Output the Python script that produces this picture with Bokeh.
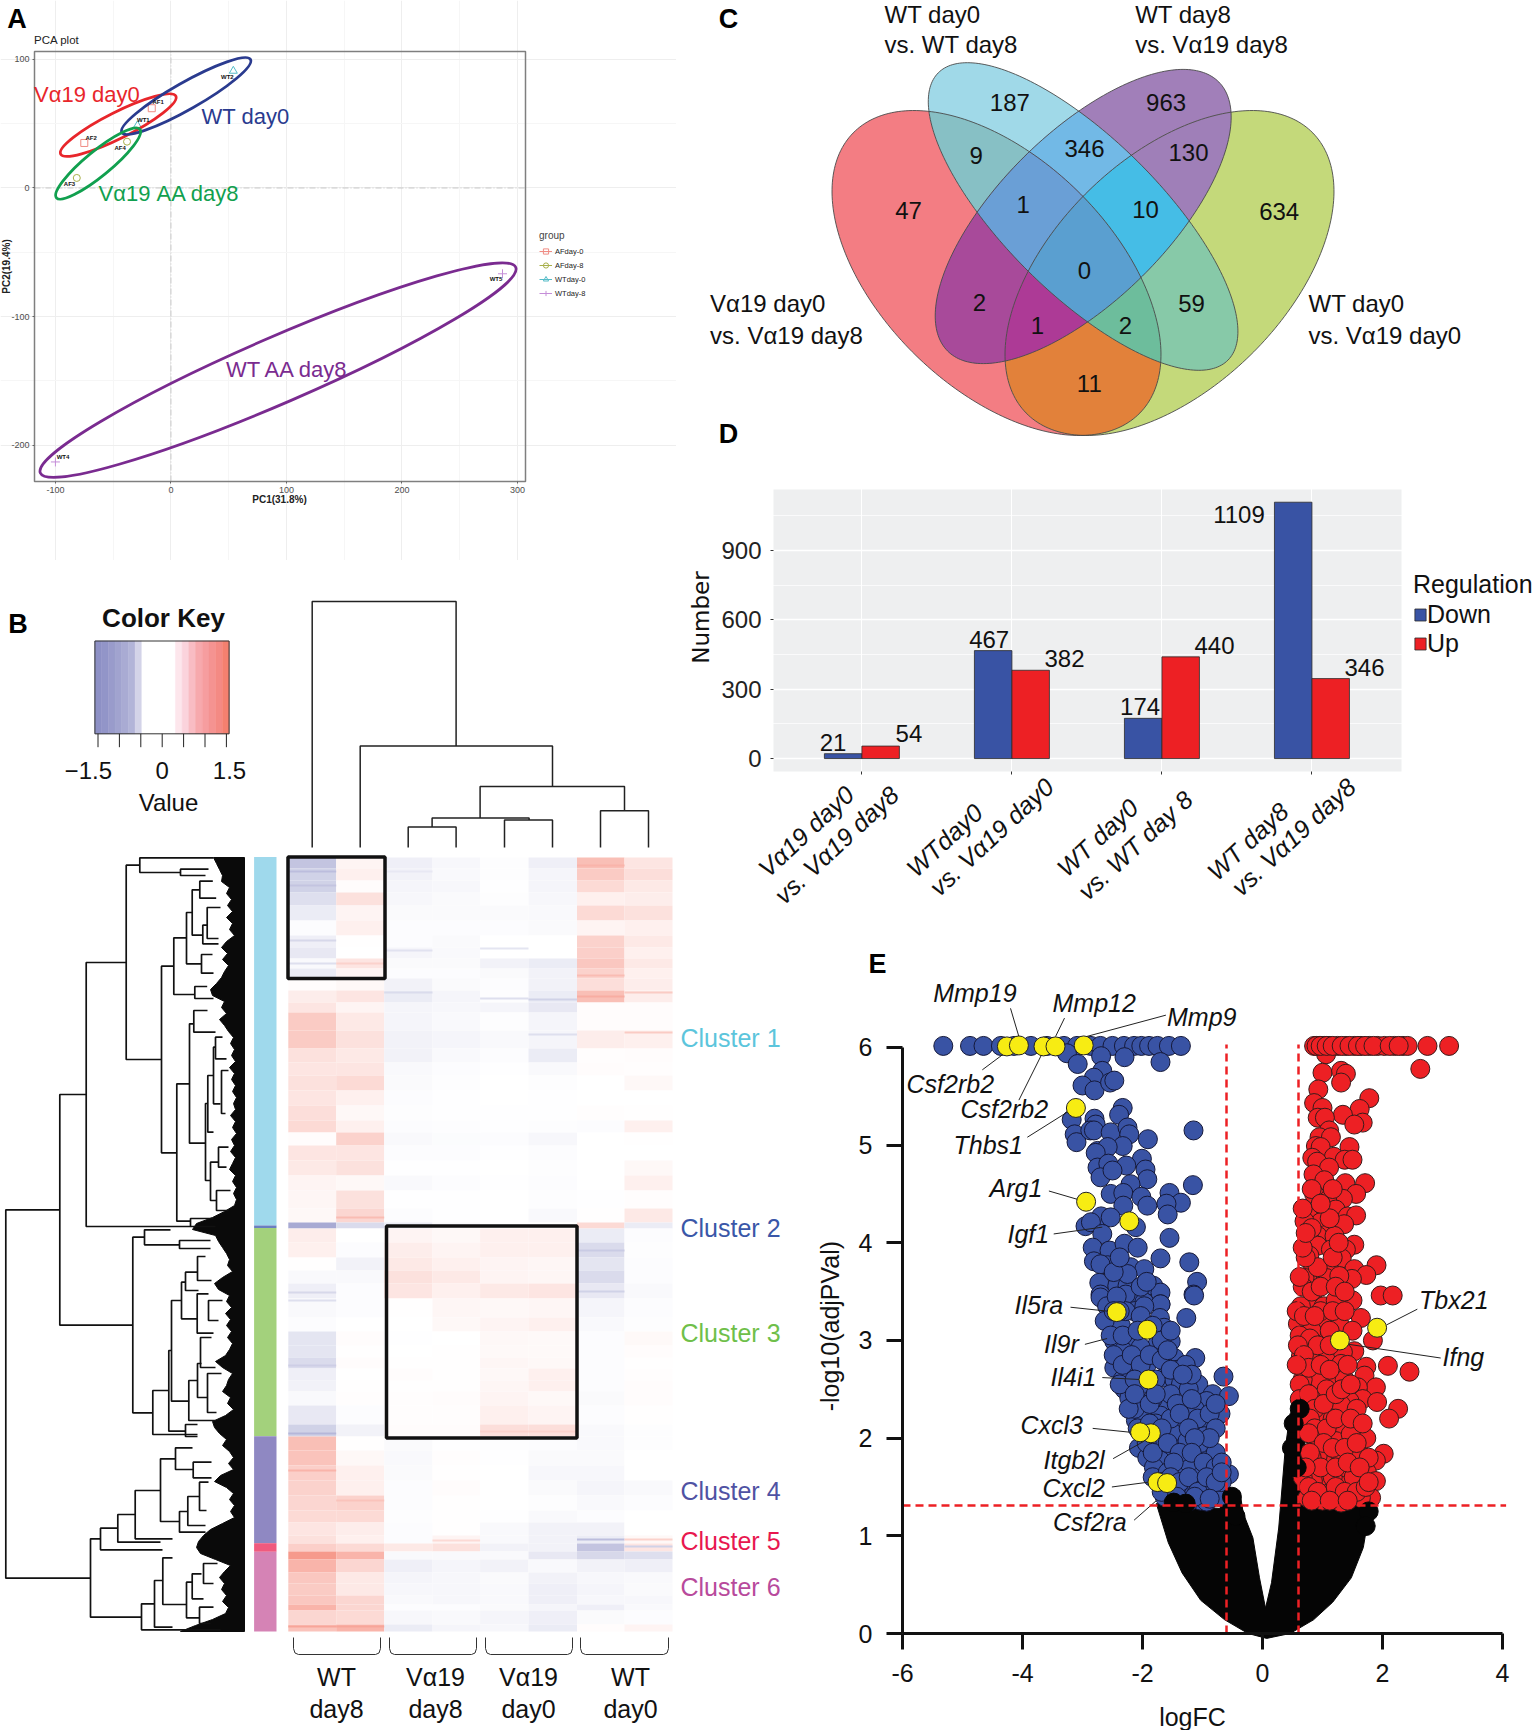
import numpy as np
from bokeh.plotting import figure
from bokeh.layouts import row, column
from bokeh.models import (Label, Legend, LegendItem, FixedTicker, LinearAxis, Grid, LinearColorMapper, Range1d)
from bokeh.transform import transform
from bokeh.embed import file_html
from bokeh.resources import INLINE

FONT = "Liberation Sans"

# ---------- Panel A data ----------
pca_x_ticks = [-100, 0, 100, 200, 300]
pca_y_ticks = [-200, -100, 0, 100]
af0_x, af0_y = [-16.6, -75.0], [62.0, 35.0]
af8_x, af8_y = [-81.5, -38.0], [7.8, 36.0]
wt0_x, wt0_y = [-29.0, 54.0], [48.6, 91.0]
wt8_x, wt8_y = [-100.0, 287.0], [-213.0, -66.7]
sample_names = ["AF1", "AF2", "AF3", "AF4", "WT1", "WT2", "WT4", "WT5"]
sample_px = [157.6, 90.6, 69, 119.6, 142.8, 226.8, 62.5, 495.5]
sample_py = [101.8, 137, 183.6, 147, 119.6, 76.4, 456.4, 278.6]
ell_names = ["Vα19 day0", "WT day0", "Vα19 AA day8", "WT AA day8"]
ell_colors = ["#e8262b", "#2a3b8f", "#11a04f", "#7a2b90"]
ell_x = [-45.6, 13.2, -63.0, 92.7]
ell_y = [48.9, 71.5, 19.0, -141.6]
ell_w = [129, 148, 108, 518]
ell_h = [26, 27, 25, 66]
ell_a = [26.7, 29.6, 39.4, 23.4]
ell_lx = [33.5, 201, 98, 225.4]
ell_ly = [93.6, 116, 193, 369]

# ---------- Panel B data ----------
heat_rows = [857,868,880,892,905,920,935,947,958,968,978,990,1002,1012,1030,1048,1062,1075,1090,1105,1120,1132,1145,1160,1175,1190,1208,1222,1228,1242,1257,1270,1283,1298,1317,1331,1345,1357,1368,1380,1391,1405,1424,1436,1450,1465,1480,1495,1510,1522,1535,1543,1551,1559,1572,1583,1595,1604,1610,1624,1631]
heat_cols = [287.8, 335.7, 383.7, 432, 479.6, 528, 576.5, 624, 672]
wt8_a = [-.9,-.7,-.7,-.5,-.3,-.05,-.25,-.35,-.1,-.3,.05,.25,.35,.7,.7,.4,.35,.4,.35,.45,.5,.05,.35,.3,.15,.12,.1,-1.3,.25,.2,.02,-.1,-.25,-.1,-.05,-.4,-.4,-.55,-.25,-.2,-.1,-.35,-.7,.85,.8,.65,.6,.55,.5,.35,.4,.65,1.35,1.0,.75,.7,.75,1.0,.55,.8]
wt8_b = [.15,.2,.05,.4,.15,.2,.02,0,.35,.15,.1,.35,.15,.3,.4,.3,.35,.5,.2,.1,.2,.6,.35,.4,.1,.4,.55,-.55,0,-.05,-.2,-.1,-.05,-.05,0,.05,.02,.05,0,.02,.03,-.05,-.2,.02,.1,.2,.2,.6,.5,.25,.2,.5,1.0,.55,.3,.3,.55,.55,.5,1.0]
v8_a = [-.25,-.2,-.15,-.12,-.08,-.05,-.05,-.15,-.08,-.05,-.2,-.3,-.15,-.15,-.2,-.2,-.1,-.08,-.05,-.03,-.05,-.1,-.05,-.02,-.1,-.02,-.05,-.3,.15,.25,.3,.4,.35,.02,0,-.02,0,.02,.05,.02,.03,.03,.05,-.08,-.1,-.08,-.05,-.05,-.03,-.05,-.05,.3,-.1,-.25,-.15,-.12,-.1,-.05,-.12,-.3]
v8_b = [-.12,-.1,-.12,-.08,-.08,-.05,-.08,-.1,-.08,-.05,-.08,-.15,-.12,-.1,-.15,-.1,-.05,-.03,-.02,-.02,-.03,-.06,-.05,-.02,-.05,-.02,-.02,-.1,.1,.15,.2,.3,.2,.12,.1,0,.02,.02,.02,.02,.05,.03,.05,-.02,.03,.02,.04,.02,.02,.02,.15,.4,-.1,-.15,-.12,-.12,-.12,-.05,-.1,-.15]
v0_a = [-.03,-.03,-.02,-.03,-.08,-.05,0,0,-.2,-.08,-.05,-.03,-.15,-.03,-.1,-.05,-.02,-.01,-.01,-.02,-.02,-.05,-.02,0,-.02,0,0,0,.2,.2,.15,.15,.3,.1,.15,.1,.08,.12,.1,.12,.15,.2,.45,-.03,-.02,0,0,0,-.02,-.1,-.1,-.2,-.1,-.2,-.08,-.1,-.1,-.08,-.15,-.12]
v0_b = [-.25,-.15,-.15,-.12,-.1,-.08,0,0,-.3,-.2,-.2,-.3,-.35,-.15,-.15,-.3,-.1,-.03,-.02,-.02,-.03,-.12,-.05,-.03,-.05,-.03,-.1,0,.2,.2,.12,.12,.35,.12,.2,.08,.08,.1,.2,.2,.1,.15,.45,-.05,-.08,-.12,-.08,-.03,-.1,-.2,-.2,-.2,-.35,-.1,-.2,-.25,-.25,-.15,-.25,-.3]
wt0_a = [.85,.7,.5,.2,.5,.15,.6,.65,.75,.6,.45,.85,.05,.05,.25,.03,.05,0,0,.03,-.05,0,0,0,0,-.02,.02,.5,-.3,-.55,-.4,-.55,-.35,-.15,-.1,-.05,-.05,-.05,-.05,-.05,-.08,-.05,-.1,-.1,-.08,-.12,-.15,-.1,-.05,-.2,-.3,-.9,-.6,-.2,-.12,-.15,-.12,-.25,-.08,.05]
wt0_b = [.35,.45,.3,.25,.4,.2,.3,.2,.3,.2,.25,.25,.05,.05,.2,.05,.03,.1,0,.02,.2,.02,0,.1,.2,.03,.3,-.3,-.05,-.03,-.05,-.05,-.1,-.05,-.03,.08,.05,.02,.03,.05,.05,.02,-.03,-.03,0,0,-.1,-.05,0,0,.1,.35,-.5,-.25,-.1,-.08,-.12,-.1,-.05,.15]
heat_columns = [wt8_a, wt8_b, v8_a, v8_b, v0_a, v0_b, wt0_a, wt0_b]
# thin single-gene stripes that stand out in the heat map
stripe_col = [0,0,0,0,0,0,0,0,1,1,2,2,2,4,4,5,5,6,6,6,6,6,6,7,7,7,7,4,5,3,0,1,0,1]
stripe_row = [871,885,940,963,1433,1365,1292,1300,963,1217,950,992,871,948,998,999,1034,975,996,865,1250,1291,1539,992,1032,1539,1546,1431,1431,1540,1626,1626,1470,1500]
stripe_val = [-1.0,-.9,-.6,-.5,-1.1,-.75,-.6,-.5,.6,.9,-.45,-.55,-.35,-.4,-.5,-.7,-.5,.9,1.1,1.0,-.8,-.7,-1.0,.7,.7,.6,-.7,.6,.6,.5,1.2,1.2,1.0,.8]

key_colors = ["#8d90c5","#9295c8","#999bcb","#a1a3cf","#a9abd3","#b2b4d8","#d3d3e8","#ffffff","#ffffff","#ffffff","#ffffff","#ffffff","#fde6ec","#fbd3dc","#f9bcc3","#f7a9ad","#f69d9f","#f59391","#f48a84","#f4806f"]
key_tick_values = [-1.5, -1, -.5, 0, .5, 1, 1.5]

side_tops = [856.6, 1225, 1227.5, 1435.7, 1542.7, 1551.3]
side_bots = [1225, 1227.5, 1435.7, 1542.7, 1551.3, 1631]
side_colors = ["#9fd9ec", "#6a7fc0", "#a3d17c", "#8f88c2", "#f05a7e", "#d583b5"]
cluster_names = ["Cluster 1", "Cluster 2", "Cluster 3", "Cluster 4", "Cluster 5", "Cluster 6"]
cluster_py = [1037.9, 1227.8, 1332.6, 1490.7, 1540.7, 1586]
cluster_colors = ["#5cc5dc", "#3a57a8", "#6fbf4a", "#4f52a3", "#e8174f", "#b84a9c"]

row_tree = [
 (5.3,1209.3,1577.7,59.3,90),(59.3,1094,1324.7,85.7,132.3),(85.7,962,1226,125.7,190),
 (125.7,864.7,1059,139.3,161),(139.3,857.3,872,213,180),(180,868.7,875,208,205),
 (161,965.7,1152.3,173.3,176.3),(173.3,937.3,994,186,194.3),(186,912,963.3,191.7,201),
 (191.7,889.3,934.7,199.3,202.3),(199.3,880.7,897.7,212.3,215.7),(202.3,924.7,943.3,206.7,218),
 (206.7,907,938,220,218),(201,954,972.7,212,213),(194.3,986,998,206.7,213),
 (176.3,1083.3,1220.7,189,190),(189,1023.3,1142.7,193.3,205),(193.3,1010,1031.7,207,215),
 (205,1103,1180,207.3,210),(207.3,1075,1131.7,213,213),(213,1046.7,1103.3,214.7,220),
 (215,1036.7,1058.3,222,226),(221,1070,1113,228,225),(210,1161.7,1200,218,215.7),
 (218,1146.7,1166.7,228,226),(216,1190,1210,230,228),(190,1218,1226,213,215),
 (132.3,1236.7,1412.3,144,152.3),(144,1229.3,1244.3,170,179),(179,1240,1248,210,210),
 (152.3,1390,1434,168.3,197),(168.3,1350,1430.7,171,185),(171,1300,1400.7,181,188.7),
 (181,1281.7,1318.3,185,197),(185,1271.7,1290,197,198),(197,1256,1280,205,211),
 (196.7,1293.3,1332.7,208,213),(208,1300,1320,222,218),(188.3,1380,1420,197,215),
 (197,1363,1397,201,207),(200,1337,1367,211,215),(207,1373,1412,221,216),(185,1424,1436,197,197),
 (90,1538.3,1616.7,100,141),(100,1527.7,1549.3,117.3,162),(117.3,1514,1541.7,134.7,160),
 (134.7,1490,1538.3,160,172),(160,1458.3,1521,175,179),(175,1447.3,1469,192,192.7),
 (192.7,1461.7,1477.3,211,211),(179,1511,1531.7,187.3,205),(187.3,1496,1525,199,205),
 (199,1481.7,1510,208,206),(141,1603.3,1629.3,154,220),(154,1580,1626.7,162.3,172),
 (162.3,1557.3,1604,172,186),(186,1581.7,1617.3,191.7,199),(191.7,1573.3,1598.3,201,203),
 (203,1563,1583,217,213),(199,1606.7,1623,213,210),
]
leaf_edge_x = [213,216,219,222,221,229,226,231,227,232,226,232,229,234,226,221,227,222,228,224,221,216,210,212,224,221,226,219,224,228,233,230,234,231,235,229,234,231,235,232,236,233,235,230,235,232,236,231,234,230,235,232,229,235,232,236,233,236,234,224,212,196,192,215,218,222,226,229,227,232,222,214,218,229,226,231,225,230,226,231,227,232,229,225,215,222,232,228,226,222,230,227,233,225,212,214,219,226,222,229,233,228,233,220,214,226,233,229,234,230,234,222,210,203,198,196,200,215,230,224,219,224,221,226,222,228,225,212,195,180]
leaf_edge_y = [857 + 6 * i for i in range(len(leaf_edge_x))]
col_tree = [
 (601,311.7,455.6,847,745.5),(745.5,359.7,552,847,786),(786,479.6,624,817.5,810.3),
 (817.5,431.6,528.6,826.4,819.5),(826.4,407.7,455.6,847,847),(819.5,504,552,847,847),(810.3,600,648,847,847),
]
bracket_l = [293, 389, 485, 580]
bracket_r = [380, 476, 572, 668]
group_l1 = ["WT", "Vα19", "Vα19", "WT"]
group_l2 = ["day8", "day8", "day0", "day0"]
group_px = [336, 435, 528, 630]

# ---------- Panel C data ----------
venn_cx = [996, 1082.6, 1082.7, 1169]
venn_cy = [272.5, 216, 216, 272.5]
venn_a = [200.4, 204, 191, 200.4]
venn_b = [115.3, 77.5, 84, 115.3]
venn_t = [44.3, 44.75, -44.75, -44.3]
venn_fill = {"R":"#f37d83","C":"#a0d9e8","P":"#a17fb9","G":"#c4d97a",
             "RC":"#87c0c5","CP":"#72b9e6","RP":"#a84a9a","RG":"#e2813a","CG":"#87c9a8","PG":"#9f7fb8",
             "RCP":"#6a9fd6","CPG":"#45bde6","RPG":"#ad3a96","RCG":"#6dbd9c","RCPG":"#5a9fd0"}
venn_counts = ["187","963","9","346","130","47","1","10","634","0","2","59","1","2","11"]
venn_px = [1009.3,1165.6,975.7,1084,1188,908,1022.7,1145,1278.7,1084,979,1191,1037,1125,1088.8]
venn_py = [101.7,101.7,155,148.3,151.7,210,204,209.3,210.7,270,301.7,303.3,325,325,383.3]
venn_titles = [("WT day0",884,14),("vs. WT day8",884,44),("WT day8",1134.7,14),("vs. Vα19 day8",1134.7,44),
               ("Vα19 day0",709.6,303.3),("vs. Vα19 day8",709.6,335),("WT day0",1308,303.3),("vs. Vα19 day0",1308,335)]

# ---------- Panel D data ----------
cat_pos = [1, 2, 3, 4]
down_counts = [21, 467, 174, 1109]
up_counts = [54, 382, 440, 346]
bar_text = ["21","54","467","382","174","440","1109","346"]
bar_px = [832.5,908.4,988.7,1064,1139.6,1214,1238.5,1364]
bar_py = [741.7,733,639,658,706,645,514,666.7]
cat_lines = [("Vα19 day0",849.4,790),("vs. Vα19 day8",894,790),("WTday0",978,808),("vs. Vα19 day0",1049,782),
             ("WT day0",1133.5,803),("vs. WT day 8",1188,795),("WT day8",1283.8,806.7),("vs. Vα19 day8",1351,782)]

# ---------- Panel E data ----------
env_x = [-1.77,-1.57,-1.34,-1.03,-.63,-.24,.07,.46,.85,1.17,1.48,1.68,1.79,1.71,.70,.71,.62,.46,.38,.27,.15,.05,-.05,-.16,-.32,-.38,-.60,-.71,-1.42]
env_y = [1.33,.93,.62,.34,.14,0,-.05,0,.14,.32,.57,.88,1.28,1.36,1.36,2.15,2.38,2.25,1.9,1.08,.52,.26,.57,.98,1.23,1.46,1.46,1.28,1.31]
black_x = [-1.48,-1.28,-.51,-.45,.62,.52,.49,.57,1.77,1.72]
black_y = [1.34,1.33,1.4,1.2,2.3,2.15,1.9,1.7,1.25,1.1]
blue_x_read = [-5.39,-4.945,-4.72,-4.43,-4.21,-3.93,-3.66,-3.38,-3.16,-2.93,-2.77,-2.57,-2.38,-2.21,-2.09,-1.96,-1.82,-1.63,-1.43,
 -3.33,-3.15,-2.76,-2.37,-1.77,-2.74,-2.88,-3.07,-2.87,-2.61,-2.54,-2.40,-2.46,-3.25,-2.87,-2.85,-3.20,-3.17,-2.94,-2.88,-2.60,-2.32,-2.29,-1.98,-1.22,-2.82,-2.40,-2.65,-2.85,-2.08,-2.82,-2.64,-2.34,-2.02,-2.77,-2.57,-1.99,-2.27,-2.60,-2.39,-2.09,-1.99,-1.23,-1.62,-1.43,-1.67,-1.65,-2.39,-2.76,-3.02,-2.93,-2.60,-2.18,-2.74,-2.90,-2.62,-2.37,-2.15,-1.62,-1.77,-1.29,-2.65,-2.88,-2.77,-2.27,-2.04,-1.16,-1.22,-2.79,-2.49,-2.32,-2.32,-1.89,-1.77,-2.77,-2.63,-2.21,-2.04,-1.77,
 -2.77,-2.66,-2.35,-1.77,-2.21,-2.04,-1.21,-1.34,-1.78,-2.57,-2.43,-1.71,-1.60,-1.82,-2.24,-2.54,-2.39,-2.10,-1.88,-1.19,-1.54,-1.49,-1.71,-1.54,-2.54,-2.24,-2.40,-2.10,-2.37,-2.29,-1.43,-1.14,-.72,-.90,-.63,-1.00,-1.57,-1.35,-1.77,-2.10,-2.18,-2.04,-1.77,-1.68,-1.49,-1.05,-.77,-1.24,-1.40,-1.04,-1.54,-2.04,-1.77,-1.57,-1.32,-1.15,-.99,-2.13,-1.99,-1.77,-1.43,-1.88,-1.14,-.88,-.63,-1.21,-.90,-1.38,-1.60,-1.10,
 -1.9,-1.5,-1.3,-1.0,-.8,-1.2,-1.9,-1.6,-2.0,-1.85,-1.3,-1.1,-.85,-1.65,-1.7,-1.3,-1.0,-.75,-2.2,
 -2.7,-2.6,-2.35,-2.1,-1.9,-2.4,-2.15,-1.75,-1.6,-2.55,-2.4,-2.25,-2.1,-1.95,-1.75,-1.65,-1.35,-1.25,-2.45,-2.2,-1.85,-1.6,-1.4,
 -2.3,-2.2,-1.95,-1.85,-1.6,-1.5,-1.25,-1.15,-.95,-.85,-2.15,-1.95,-1.75,-1.45,-1.3,-.85,-.95,-1.2,
 -2.0,-1.9,-1.65,-1.45,-1.25,-1.05,-.85,-.75,-1.55,-1.75,-1.6,-1.45,-1.3,-1.15,-1.0,-.85,-.75,-1.75,-1.5,-1.2,-.95,
 -2.55,-2.45,-2.5,-2.1,-2.45,-2.0,-2.55]
blue_y = [6.015]*19 + [5.94,5.83,5.91,5.90,5.85,5.76,5.69,5.61,5.56,5.64,5.66,5.38,5.31,5.26,5.27,5.21,5.11,5.03,5.15,5.15,5.13,5.18,5.11,5.06,5.15,4.94,4.99,4.98,4.92,4.86,4.77,4.81,4.79,4.75,4.67,4.74,4.65,4.60,4.50,4.51,4.47,4.38,4.59,4.51,4.41,4.40,4.29,4.38,4.27,4.17,4.21,4.26,4.16,4.09,3.95,3.92,3.99,3.95,4.05,3.84,3.80,3.77,3.81,3.78,3.75,3.73,3.60,3.47,3.59,3.56,3.56,3.68,3.56,3.49,3.47,3.39,3.44,3.39,3.37,
 3.44,3.35,3.47,3.37,3.30,3.35,3.46,3.23,3.23,3.17,3.15,3.13,2.99,2.96,3.03,2.99,2.89,2.93,2.84,2.82,2.82,2.70,2.62,2.60,2.72,2.72,2.60,2.55,2.50,2.41,2.55,2.55,2.63,2.45,2.43,2.38,2.36,2.33,2.33,2.35,2.18,2.21,2.23,2.14,2.18,2.20,2.25,2.14,2.07,2.02,2.04,2.01,1.97,1.90,1.97,1.82,1.73,1.90,1.80,1.77,1.70,1.70,1.66,1.66,1.63,1.49,1.46,1.39,1.43,1.36,
 1.6,1.5,1.75,1.55,1.4,2.3,2.4,2.45,2.75,2.15,2.5,1.95,1.85,1.65,1.4,1.35,1.35,1.55,2.3,
 3.2,3.05,3.3,3.25,3.15,3.05,3.1,3.0,3.1,2.85,2.75,2.85,2.75,2.85,2.8,2.9,2.75,2.65,2.55,2.6,2.6,2.7,2.65,
 2.3,2.45,2.35,2.45,2.2,2.35,2.4,2.2,2.25,2.35,2.1,2.15,2.1,2.25,2.1,2.1,2.0,2.0,
 1.95,1.85,1.95,1.85,1.85,1.75,1.7,1.75,1.75,1.55,1.6,1.55,1.6,1.45,1.6,1.55,1.65,1.45,1.4,1.4,1.38,
 3.7,3.85,3.45,3.55,3.3,3.6,3.3]
red_x_read = [.79,.876,.96,1.04,1.18,1.32,1.46,1.57,1.71,1.85,1.96,2.13,2.27,2.35,2.68,3.04,
 .99,2.56,.93,1.24,1.32,1.24,.86,1.71,.79,.93,1.55,1.27,.85,.97,1.60,1.46,1.04,.88,1.07,.82,1.38,.90,.76,1.12,1.30,1.43,.84,1.04,.78,.96,1.31,1.64,1.49,.79,1.27,1.01,.88,1.15,.70,1.35,1.49,.90,.63,1.29,.99,.85,1.13,1.46,.71,.85,.71,1.07,1.32,1.25,1.83,1.46,1.66,1.04,.73,.99,1.42,1.21,.63,
 1.90,2.10,1.43,.79,.95,.57,1.15,1.57,.68,.95,1.21,.52,1.77,1.43,.63,.93,1.46,.77,.57,1.02,1.27,1.24,2.02,2.38,1.66,1.14,1.63,.65,.88,1.82,1.52,.65,1.08,1.60,1.38,1.84,1.24,.89,2.19,2.04,1.54,.90,.65,1.29,.85,1.66,1.15,1.40,1.95,1.82,1.53,1.04,.85,1.21,1.67,1.82,1.35,1.02,.77,.60,1.57,1.08,1.74,1.40,.68,.93,1.24,1.57,
 .75,.8,1.3,1.0,1.3,1.1,.75,.6,1.5,1.45,1.1,1.7,.9,.75,.6,1.1,.55,.55,
 .5,.62,.8,1.05,1.3,.72,.85,1.05,.52,.62,.7,.5,.9,1.05,1.35,.55,.7,.8,.95,1.15,1.25,1.4,.72,.8,1.0,1.15,1.4,.7,.95,1.1,1.3,1.5,1.6,.72,.9,1.15,1.35,1.55,.65,.7,.85,1.15,1.3,1.5,1.65,.75,1.05,1.35,1.7,.6,.75,.9,1.15,1.3,.55,.85,1.1,.65,1.2,.6,.75,1.05,.65,.6,.75,.9,1.1,
 .83,.9,1.0,1.1,1.25,1.38,1.52,1.64,1.78,2.05,2.2]
red_y = [6.015]*16 + [5.93,5.78,5.74,5.76,5.73,5.64,5.57,5.48,5.43,5.38,5.37,5.31,5.28,5.28,5.23,5.21,5.15,5.08,5.08,4.99,4.98,4.98,4.87,4.88,4.85,4.85,4.83,4.77,4.70,4.64,4.61,4.61,4.50,4.50,4.45,4.43,4.34,4.34,4.26,4.27,4.28,4.21,4.22,4.19,4.08,4.07,4.07,3.98,4.04,3.97,3.87,3.93,3.93,3.84,3.77,3.73,3.67,3.73,3.68,3.64,3.63,3.66,3.64,
 3.46,3.46,3.41,3.39,3.35,3.35,3.41,3.23,3.18,3.17,3.17,3.17,3.00,3.10,3.01,3.01,2.89,2.84,2.84,2.86,2.88,2.76,2.74,2.68,2.73,2.64,2.64,2.62,2.60,2.52,2.52,2.46,2.43,2.40,2.38,2.37,2.34,2.28,2.30,2.20,2.14,2.18,2.18,2.09,2.01,2.00,1.97,2.04,1.84,1.77,1.84,1.77,1.82,1.85,1.65,1.56,1.61,1.61,1.56,1.60,1.52,1.45,1.39,1.43,1.39,1.36,1.34,1.39,
 1.8,2.0,1.7,2.5,2.6,2.2,2.4,2.6,2.3,1.6,1.6,1.8,3.3,3.1,3.0,3.3,3.05,2.55,
 3.3,3.25,3.25,3.1,3.3,3.02,2.95,2.95,2.95,2.85,2.72,2.75,2.75,2.7,2.75,2.4,2.45,2.3,2.35,2.45,2.5,2.55,2.2,2.1,2.1,2.2,2.2,2.05,1.95,1.9,1.9,1.95,2.15,1.85,1.7,1.7,1.75,1.7,1.7,1.5,1.45,1.5,1.45,1.45,1.5,1.36,1.36,1.36,1.55,3.55,3.5,3.55,3.55,3.5,3.65,3.75,3.85,3.85,4.0,3.95,4.15,4.25,4.1,4.35,4.55,4.4,4.55,
 6.015,6.015,6.015,6.015,6.015,6.015,6.015,6.015,6.015,6.015,6.015]
hit_x_read = [-4.33,-4.13,-3.72,-3.52,-3.05,-3.18,-3.01,-2.29,-2.50,-1.99,-1.97,-1.93,-2.11,-1.82,-1.66,1.22,1.84]
hit_y = [6.01,6.02,6.01,6.01,6.02,5.38,4.42,4.22,3.29,3.11,2.60,2.05,2.06,1.55,1.54,3.00,3.13]
lead_x0_read = [-4.27,-3.37,-1.68,-4.74,-4.13,-3.99,-3.63,-3.55,-3.27,-3.03,-2.74,-2.90,-2.56,-2.58,-2.21,2.0,2.90]
lead_y0 = [6.40,6.30,6.33,5.77,5.46,5.08,4.53,4.09,3.34,2.96,2.62,2.10,1.79,1.50,1.16,3.16,2.82]
lead_x1_read = [-4.13,-3.52,-3.01,-4.37,-3.74,-3.29,-3.13,-2.74,-2.66,-2.66,-2.11,-2.27,-2.04,-1.96,-1.84,2.51,1.37]
lead_y1 = [6.11,6.11,6.11,5.94,5.94,5.35,4.44,4.16,3.30,3.02,2.60,2.06,1.97,1.55,1.36,3.32,2.96]
gene_names = ["Mmp19","Mmp12","Mmp9","Csf2rb2","Csf2rb2","Thbs1","Arg1","Igf1","Il5ra","Il9r","Il4i1","Cxcl3","Itgb2l","Cxcl2","Csf2ra","Tbx21","Ifng"]
gene_px = [932.7,1052,1166.5,906,960,953,989,1007,1014,1043.5,1050,1020,1043,1042,1052.5,1418.6,1442]
gene_py = [992.3,1002.2,1016.2,1083.3,1108.2,1144,1187.3,1233.6,1304.2,1343,1376.9,1424,1459,1487.3,1521,1299.8,1356.5]
# the x values above were first read against an axis placed 4 px too far right
AXIS_READ_OFFSET = 0.07
blue_x = [v + AXIS_READ_OFFSET for v in blue_x_read]
red_x = [v + AXIS_READ_OFFSET for v in red_x_read]
hit_x = [v + AXIS_READ_OFFSET for v in hit_x_read]
lead_x0 = [v + AXIS_READ_OFFSET for v in lead_x0_read]
lead_x1 = [v + AXIS_READ_OFFSET for v in lead_x1_read]

# ---------- helpers ----------
def make_text(frame):
    fl, fr, ft, fb, xlo, xhi, ylo, yhi = frame
    def T(p, s, px, py, size=24, color="#111111", align="left", base="middle", angle=0,
          style="normal", font=FONT):
        x = xlo + (px - fl) / (fr - fl) * (xhi - xlo)
        y = ylo + (fb - py) / (fb - ft) * (yhi - ylo)
        p.add_layout(Label(x=x, y=y, text=s, text_font=font, text_font_size=f"{size}px", text_color=color,
                           text_align=align, text_baseline=base, angle=angle, angle_units="deg",
                           text_font_style=style))
    return T

def ellipse_poly(cx, cy, a, b, deg, n=240):
    t = np.linspace(0, 2 * np.pi, n, endpoint=False)
    th = np.radians(deg)
    return np.column_stack([cx + a * np.cos(t) * np.cos(th) - b * np.sin(t) * np.sin(th),
                            cy + a * np.cos(t) * np.sin(th) + b * np.sin(t) * np.cos(th)])

def clip_convex(subject, clipper):
    out = [tuple(q) for q in subject]
    area = np.sum(clipper[:, 0] * np.roll(clipper[:, 1], -1) - np.roll(clipper[:, 0], -1) * clipper[:, 1])
    sign = 1 if area > 0 else -1
    m = len(clipper)
    for i in range(m):
        ax, ay = clipper[i]
        bx, by = clipper[(i + 1) % m]
        inside = lambda q: sign * ((bx - ax) * (q[1] - ay) - (by - ay) * (q[0] - ax)) >= 0
        res = []
        for j in range(len(out)):
            c, d = out[j], out[(j + 1) % len(out)]
            ic, id_ = inside(c), inside(d)
            if ic:
                res.append(c)
            if ic != id_:
                den = (d[0] - c[0]) * (by - ay) - (d[1] - c[1]) * (bx - ax)
                u = ((ax - c[0]) * (by - ay) - (ay - c[1]) * (bx - ax)) / den
                res.append((c[0] + u * (d[0] - c[0]), c[1] + u * (d[1] - c[1])))
        out = res
        if not out:
            break
    return np.array(out)

def panel(canvas, frame):
    cl, cr, ct, cb = canvas
    fl, fr, ft, fb, xlo, xhi, ylo, yhi = frame
    sx = (xhi - xlo) / (fr - fl)
    sy = (yhi - ylo) / (fb - ft)
    p = figure(width=cr - cl, height=cb - ct,
               x_range=Range1d(xlo + (cl - fl) * sx, xlo + (cr - fl) * sx),
               y_range=Range1d(ylo + (fb - cb) * sy, ylo + (fb - ct) * sy),
               x_axis_type=None, y_axis_type=None, toolbar_location=None, output_backend="svg",
               min_border=0, outline_line_color=None)
    p.grid.visible = False
    return p, make_text(frame)

def style_axis(ax, size, color, out, width, tick_color, standoff, line=None):
    ax.axis_line_color = line
    ax.axis_line_width = width
    ax.major_tick_line_color = tick_color
    ax.major_tick_line_width = width
    ax.major_tick_out = out
    ax.major_tick_in = 0
    ax.minor_tick_line_color = None
    ax.major_label_text_font = FONT
    ax.major_label_text_font_size = size
    ax.major_label_text_color = color
    ax.major_label_standoff = standoff

# ---------- Panel A ----------
fa = (34, 525, 51, 481, -118.1, 306.9, -228.2, 106.1)
pa, TA = panel((0, 676, 0, 560), fa)
gx = FixedTicker(ticks=pca_x_ticks, minor_ticks=[-50, 50, 150, 250])
gy = FixedTicker(ticks=pca_y_ticks, minor_ticks=[-150, -50, 50])
pa.add_layout(Grid(dimension=0, ticker=gx, bounds=(fa[6], fa[7]), grid_line_color="#eeeeee", minor_grid_line_color="#f6f6f6"))
pa.add_layout(Grid(dimension=1, ticker=gy, bounds=(fa[4], fa[5]), grid_line_color="#eeeeee", minor_grid_line_color="#f6f6f6"))
ax = LinearAxis(ticker=FixedTicker(ticks=pca_x_ticks), fixed_location=fa[6], major_label_overrides={-100: "-100"})
ay = LinearAxis(ticker=FixedTicker(ticks=pca_y_ticks), fixed_location=fa[4], major_label_overrides={-100: "-100", -200: "-200"})
style_axis(ax, "9px", "#4d4d4d", 2, 1, "#666666", 3)
style_axis(ay, "9px", "#4d4d4d", 2, 1, "#666666", 3)
pa.add_layout(ax, "below")
pa.add_layout(ay, "left")
pa.segment([fa[4], 0], [0, fa[6]], [fa[5], 0], [0, fa[7]], line_color="#c8c8c8", line_dash="6 2 1 2", line_width=1)
pa.quad(left=[fa[4]], right=[fa[5]], bottom=[fa[6]], top=[fa[7]], fill_color=None, line_color="#7f7f7f", line_width=1.5)
r1 = pa.scatter(af0_x, af0_y, marker="square", size=7, fill_color=None, line_color="#f08c84")
r2 = pa.scatter(af8_x, af8_y, marker="circle", size=7, fill_color=None, line_color="#a8b04a")
r3 = pa.scatter(wt0_x, wt0_y, marker="triangle", size=8, fill_color=None, line_color="#55bcc8")
r4 = pa.scatter(wt8_x, wt8_y, marker="cross", size=9, line_color="#c58ed8")
pa.ellipse(ell_x, ell_y, width=ell_w, height=ell_h, angle=ell_a, width_units="screen", height_units="screen",
           angle_units="deg", fill_color=None, line_color=ell_colors, line_width=2.8)
nan = [float("nan")]
items = []
for name, rr, col in zip(["AFday-0", "AFday-8", "WTday-0", "WTday-8"], [r1, r2, r3, r4],
                         ["#f08c84", "#a8b04a", "#55bcc8", "#c58ed8"]):
    ln = pa.line(nan, nan, line_color=col)
    items.append(LegendItem(label=name, renderers=[ln, rr]))
la = Legend(items=items, title="group", location=(539, 260), background_fill_alpha=0, border_line_color=None,
            padding=0, margin=0, spacing=0, glyph_width=13, glyph_height=14, label_height=14, label_standoff=3,
            label_text_font=FONT, label_text_font_size="7.5px", title_text_font=FONT, title_text_font_size="10px",
            title_text_font_style="normal", title_standoff=3, label_text_color="#222222")
pa.add_layout(la)
for s, x, y in zip(sample_names, sample_px, sample_py):
    TA(pa, s, x, y, size=6, align="center", style="bold")
for s, x, y, c in zip(ell_names, ell_lx, ell_ly, ell_colors):
    TA(pa, s, x, y, size=22, color=c)
TA(pa, "A", 16.5, 18, size=27, style="bold", color="#000000", align="center")
TA(pa, "PCA plot", 33.5, 39, size=11.5, color="#222222")
TA(pa, "PC1(31.8%)", 279, 499, size=10, color="#222222", align="center", style="bold")
TA(pa, "PC2(19.4%)", 6, 266, size=10, color="#222222", align="center", angle=90, style="bold")

# ---------- Panel B ----------
pb, TB = panel((0, 676, 560, 1730), (0, 676, 560, 1730, 0, 676, 1730, 560))
pal = []
for i in range(128):
    t = i / 127
    pal.append("#%02x%02x%02x" % (round(0x8d + (255 - 0x8d) * t), round(0x90 + (255 - 0x90) * t), round(0xc5 + (255 - 0xc5) * t)))
for i in range(128):
    t = i / 127
    pal.append("#%02x%02x%02x" % (round(255 + (0xf4 - 255) * t), round(255 + (0x80 - 255) * t), round(255 + (0x6f - 255) * t)))
mapper = LinearColorMapper(palette=pal, low=-1.7, high=1.7)
L, R, Tp, Bt, V = [], [], [], [], []
for c, vals in enumerate(heat_columns):
    for i, v in enumerate(vals):
        L.append(heat_cols[c]); R.append(heat_cols[c + 1]); Tp.append(heat_rows[i]); Bt.append(heat_rows[i + 1]); V.append(v)
for c, y, v in zip(stripe_col, stripe_row, stripe_val):
    L.append(heat_cols[c]); R.append(heat_cols[c + 1]); Tp.append(y - 1); Bt.append(y + 1); V.append(v)
pb.quad(left="l", right="r", top="t", bottom="b", source=dict(l=L, r=R, t=Tp, b=Bt, v=V),
        fill_color=transform("v", mapper), line_color=None)
pb.quad(left=253.6, right=276, top=side_tops, bottom=side_bots, fill_color=side_colors, line_color=None)
pb.quad(left=[287.5, 386], right=[384.5, 576.5], top=[856.5, 1225.5], bottom=[978, 1437.5], fill_color=None,
        line_color="#111111", line_width=3.5)
pb.patch(leaf_edge_x + [244, 244], leaf_edge_y + [1631, 857], fill_color="#0a0a0a", line_color="#0a0a0a")
xs0, ys0 = [], []
for x, y1, y2, x1, x2 in row_tree:
    xs0.append([x1, x, x, x2]); ys0.append([y1, y1, y2, y2])
pb.multi_line(xs0, ys0, line_color="#111111", line_width=1.7)
xs1, ys1 = [], []
for y, x1, x2, y1, y2 in col_tree:
    xs1.append([x1, x1, x2, x2]); ys1.append([y1, y, y, y2])
pb.multi_line(xs1, ys1, line_color="#222222", line_width=1.5)
n = len(key_colors)
kx = np.linspace(94.4, 228.6, n + 1)
pb.quad(left=kx[:-1], right=kx[1:], top=640.5, bottom=733.3, fill_color=key_colors, line_color=key_colors, line_width=0.5)
pb.quad(left=[94.4], right=[228.6], top=[640.5], bottom=[733.3], fill_color=None, line_color="#333333", line_width=1)
tx = [161.7 + v * 42.8 for v in key_tick_values]
pb.segment(tx, [733.3] * 7, tx, [746.7] * 7, line_color="#222222", line_width=1)
TB(pb, "−1.5", 87.8, 769.7, size=24, align="center")
TB(pb, "0", 161.7, 769.7, size=24, align="center")
TB(pb, "1.5", 229, 769.7, size=24, align="center")
TB(pb, "Value", 168, 801.5, size=24, align="center")
TB(pb, "Color Key", 163, 617, size=26, align="center", style="bold")
TB(pb, "B", 17.6, 623, size=27, style="bold", color="#000000", align="center")
xs2, ys2 = [], []
for a, b in zip(bracket_l, bracket_r):
    xs2.append([a, a, a + 1.5, a + 5, b - 5, b - 1.5, b, b])
    ys2.append([1637, 1648, 1652.5, 1654, 1654, 1652.5, 1648, 1637])
pb.multi_line(xs2, ys2, line_color="#333333", line_width=1)
for a, b, x in zip(group_l1, group_l2, group_px):
    TB(pb, a, x, 1676, size=25, align="center")
    TB(pb, b, x, 1708.5, size=25, align="center")

# ---------- Panel C ----------
pc, TC = panel((676, 1536, 0, 452), (676, 1536, 0, 452, 676, 1536, 452, 0))
polys = {k: ellipse_poly(venn_cx[i], venn_cy[i], venn_a[i], venn_b[i], venn_t[i]) for i, k in enumerate("RCPG")}
for key in sorted(venn_fill, key=len):
    poly = polys[key[0]]
    for k in key[1:]:
        poly = clip_convex(poly, polys[k])
    if len(poly):
        pc.patch(poly[:, 0], poly[:, 1], fill_color=venn_fill[key], line_color=None)
for k in "RCPG":
    pc.patch(polys[k][:, 0], polys[k][:, 1], fill_color=None, line_color="#4a4a4a", line_width=0.9)
for s, x, y in zip(venn_counts, venn_px, venn_py):
    TC(pc, s, x, y, size=24, align="center")
for s, x, y in venn_titles:
    TC(pc, s, x, y, size=24)
TC(pc, "C", 728, 18.8, size=27, style="bold", color="#000000", align="center")
TC(pc, "D", 728, 433.6, size=27, style="bold", color="#000000", align="center")

# ---------- Panel D ----------
fd = (773, 1401, 489, 771, 0.4107, 4.597, -56, 1164)
pd_, TD = panel((676, 1536, 452, 945), fd)
pd_.quad(left=[fd[4]], right=[fd[5]], bottom=[fd[6]], top=[fd[7]], fill_color="#eeeff0", line_color=None, level="image")
pd_.add_layout(Grid(dimension=0, ticker=FixedTicker(ticks=cat_pos), bounds=(fd[6], fd[7]), grid_line_color="#ffffff"))
pd_.add_layout(Grid(dimension=1, ticker=FixedTicker(ticks=[0, 300, 600, 900], minor_ticks=[150, 450, 750, 1050]),
                    bounds=(fd[4], fd[5]), grid_line_color="#ffffff", grid_line_width=1.4,
                    minor_grid_line_color="#ffffff", minor_grid_line_width=0.7))
dx = LinearAxis(ticker=FixedTicker(ticks=cat_pos), fixed_location=fd[6], major_label_overrides={k: "" for k in cat_pos})
dy = LinearAxis(ticker=FixedTicker(ticks=[0, 300, 600, 900]), fixed_location=fd[4])
style_axis(dx, "10px", "#222222", 3, 1, "#333333", 3)
style_axis(dy, "24px", "#222222", 3, 1, "#333333", 9)
pd_.add_layout(dx, "below")
pd_.add_layout(dy, "left")
rd = pd_.vbar(x=[c - 0.125 for c in cat_pos], width=0.25, top=down_counts, bottom=0, fill_color="#3953a4", line_color="#2b2b2b", line_width=0.8)
ru = pd_.vbar(x=[c + 0.125 for c in cat_pos], width=0.25, top=up_counts, bottom=0, fill_color="#ed2024", line_color="#2b2b2b", line_width=0.8)
ld = Legend(items=[LegendItem(label="Down", renderers=[rd]), LegendItem(label="Up", renderers=[ru])], title="Regulation",
            location=(737, 287), background_fill_alpha=0, border_line_color=None, padding=0, margin=0, spacing=-4,
            glyph_width=14, glyph_height=15, label_height=25, label_standoff=0, label_text_font=FONT,
            label_text_font_size="25px", title_text_font=FONT, title_text_font_size="25px", title_text_font_style="normal",
            title_standoff=1, label_text_color="#111111", title_text_color="#111111")
pd_.add_layout(ld)
for s, x, y in zip(bar_text, bar_px, bar_py):
    TD(pd_, s, x, y, size=24, align="center")
for s, x, y in cat_lines:
    TD(pd_, s, x, y, size=25, align="right", angle=43, style="italic")
TD(pd_, "Number", 700, 617, size=23, align="center", angle=90, font="DejaVu Sans")

# ---------- Panel E ----------
fe = (902, 1502, 1000, 1633, -6, 4, 0, 6.48)
pe, TE = panel((676, 1536, 945, 1730), fe)
ex = LinearAxis(ticker=FixedTicker(ticks=[-6, -4, -2, 0, 2, 4]), fixed_location=0, bounds=(-6, 4),
                major_label_overrides={-6: "-6", -4: "-4", -2: "-2"})
ey = LinearAxis(ticker=FixedTicker(ticks=[0, 1, 2, 3, 4, 5, 6]), fixed_location=-6, bounds=(0, 6))
style_axis(ex, "25px", "#111111", 16, 3, "#111111", 14, line="#111111")
style_axis(ey, "25px", "#111111", 16, 3, "#111111", 14, line="#111111")
pe.add_layout(ex, "below")
pe.add_layout(ey, "left")
pe.patch(env_x, env_y, fill_color="#050505", line_color="#050505")
pe.scatter(red_x, red_y, size=19, fill_color="#ed2024", line_color="#3a1a1a", line_width=1)
pe.scatter(blue_x, blue_y, size=19, fill_color="#3953a4", line_color="#15193a", line_width=1)
pe.scatter(black_x, black_y, size=19, fill_color="#050505", line_color="#050505")
pe.segment(lead_x0, lead_y0, lead_x1, lead_y1, line_color="#222222", line_width=1)
pe.scatter(hit_x, hit_y, size=19, fill_color="#f7ec13", line_color="#222222", line_width=1)
pe.segment([-0.6, 0.6, -6], [0, 0, 1.31], [-0.6, 0.6, 4.06], [6.03, 6.03, 1.31], line_color="#ed2024", line_width=2.5, line_dash="8 5")
for s, x, y in zip(gene_names, gene_px, gene_py):
    TE(pe, s, x, y, size=25, style="italic", align="left")
TE(pe, "logFC", 1192, 1716, size=25, align="center")
TE(pe, "-log10(adjPVal)", 829, 1325.6, size=25, align="center", angle=90)
TE(pe, "E", 877, 963, size=27, style="bold", color="#000000", align="center")
for s, y, c in zip(cluster_names, cluster_py, cluster_colors):
    TE(pe, s, 680, y, size=25, color=c)

left = column(row(pa), row(pb), spacing=0)
right = column(row(pc), row(pd_), row(pe), spacing=0)
layout = row(left, right, spacing=0)
open("out.html", "w").write(file_html(layout, INLINE))
